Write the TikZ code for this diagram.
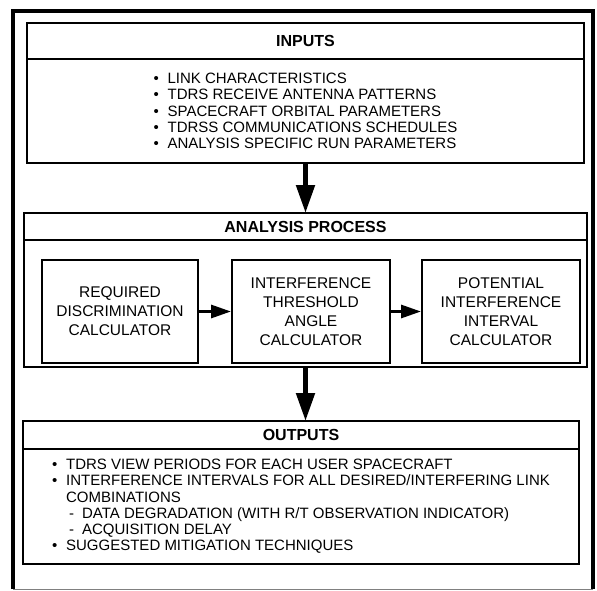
\documentclass[tikz,border=0pt]{standalone}
\usepackage{fontspec}
\setmainfont{Liberation Sans}
\usetikzlibrary{positioning, arrows.meta}

\newcommand{\tdbul}{\makebox[14pt][l]{\textbullet}}

\begin{document}
\begin{tikzpicture}[x = 1pt, y = -1pt,
    headbox/.style = {draw, line width = 1.5pt, inner sep = 0pt, outer sep = 0pt, font = \fontsize{16}{18}\selectfont\bfseries},
    listbox/.style = {draw, line width = 1.5pt, inner sep = 0pt, outer sep = 0pt, align = left, font = \fontsize{15}{16.25}\selectfont},
    calcbox/.style = {draw, line width = 2pt, inner sep = 0pt, align = center, minimum height = 103pt, font = \fontsize{15.5}{19}\selectfont},
    bigarrow/.style = {line width = 5pt, -{Triangle[length = 28pt, width = 18pt]}},
    smallarrow/.style = {line width = 3pt, -{Triangle[length = 20pt, width = 13pt]}}]
    \fill [white] (0, 0) rectangle (597, 591);
    \useasboundingbox (0, 0) rectangle (597, 591);
    % outer frame
    \draw [line width = 4pt] (13, 589) -- (13, 11) -- (593, 11) -- (593, 589);
    \draw [gray, line width = 1pt] (13, 589) -- (593, 589);
    % inputs
    \node [headbox, minimum width = 557pt, minimum height = 36pt] (inputshead) at (305.5, 41) {INPUTS};
    \node [listbox, minimum width = 557pt, minimum height = 104pt, below = 0pt of inputshead] (inputs) {%
        \tdbul LINK CHARACTERISTICS\\
        \tdbul TDRS RECEIVE ANTENNA PATTERNS\\
        \tdbul SPACECRAFT ORBITAL PARAMETERS\\
        \tdbul TDRSS COMMUNICATIONS SCHEDULES\\
        \tdbul ANALYSIS SPECIFIC RUN PARAMETERS};
    % analysis process
    \node [headbox, minimum width = 563pt, minimum height = 27pt] (analysishead) at (305.5, 226.5) {ANALYSIS PROCESS};
    \node [listbox, minimum width = 563pt, minimum height = 127pt, below = 0pt of analysishead] (analysis) {};
    \node [calcbox, minimum width = 156pt] (reqcalc) at (120, 311.5) {REQUIRED\\DISCRIMINATION\\CALCULATOR};
    \node [calcbox, minimum width = 158pt] (thrcalc) at (311, 311.5) {INTERFERENCE\\THRESHOLD\\ANGLE\\CALCULATOR};
    \node [calcbox, minimum width = 158pt] (potcalc) at (501, 311.5) {POTENTIAL\\INTERFERENCE\\INTERVAL\\CALCULATOR};
    \draw [smallarrow] (reqcalc) -- (thrcalc);
    \draw [smallarrow] (thrcalc) -- (potcalc);
    % outputs
    \node [headbox, minimum width = 556pt, minimum height = 28pt] (outputshead) at (301, 435) {OUTPUTS};
    \node [listbox, minimum width = 556pt, minimum height = 115pt, below = 0pt of outputshead] (outputs) {%
        \tdbul TDRS VIEW PERIODS FOR EACH USER SPACECRAFT\\
        \tdbul INTERFERENCE INTERVALS FOR ALL DESIRED/INTERFERING LINK\\
        \hspace*{14pt}COMBINATIONS\\
        \hspace*{17pt}\makebox[13pt][l]{-}DATA DEGRADATION (WITH R/T OBSERVATION INDICATOR)\\
        \hspace*{17pt}\makebox[13pt][l]{-}ACQUISITION DELAY\\
        \tdbul SUGGESTED MITIGATION TECHNIQUES};
    % flow between stages
    \draw [bigarrow] (inputs.south) -- (analysishead.north);
    \draw [bigarrow] (analysis.south) -- (analysis.south |- outputshead.north);
\end{tikzpicture}
\end{document}
